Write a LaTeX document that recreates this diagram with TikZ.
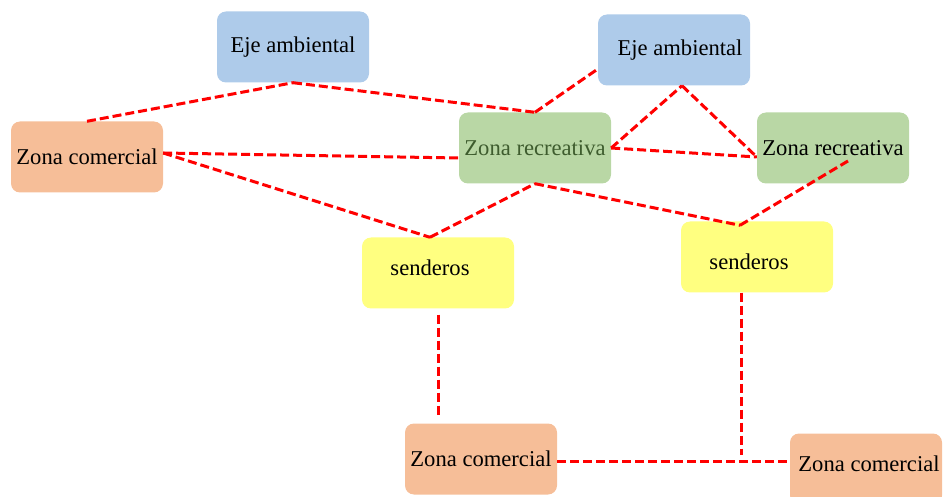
\documentclass[tikz,border=0pt]{standalone}
\usepackage{fontspec}
\setmainfont{Liberation Serif}
\definecolor{ejeblue}{RGB}{174,203,234}
\definecolor{comorange}{RGB}{246,190,152}
\definecolor{recgreen}{RGB}{185,215,165}
\definecolor{recgreentext}{RGB}{62,92,46}
\definecolor{sendyellow}{RGB}{255,255,128}
\begin{document}
\begin{tikzpicture}[x=1pt, y=-1pt,
  zonetext/.style={inner sep=0pt, font=\fontsize{22.6}{26}\selectfont},
  zone/.style={zonetext, rounded corners=9pt, minimum width=152pt, minimum height=71pt},
  link/.style={red, line width=3pt, dash pattern=on 9pt off 4pt}]
  \useasboundingbox (0,0) rectangle (943,497);
  \node[zone, fill=ejeblue] (ea1) at (293,47) {Eje ambiental};
  \node[zone, fill=ejeblue, label={[zonetext, xshift=6pt]center:Eje ambiental}] (ea2) at (674,50) {};
  \node[zone, fill=comorange] (zc1) at (87,157) {Zona comercial};
  \node[zone, fill=recgreen, text=recgreentext] (zr1) at (535,148) {Zona recreativa};
  \node[zone, fill=recgreen] (zr2) at (833,148) {Zona recreativa};
  \node[zone, fill=sendyellow, label={[zonetext, xshift=-8pt, yshift=5pt]center:senderos}] (sd1) at (438,273) {};
  \node[zone, fill=sendyellow, label={[zonetext, xshift=-8pt, yshift=-5pt]center:senderos}] (sd2) at (757,257) {};
  \node[zone, fill=comorange] (zc3) at (481,459) {Zona comercial};
  \node[zone, fill=comorange, label={[zonetext, xshift=3pt, yshift=5pt]center:Zona comercial}] (zc4) at (866,469) {};
  \coordinate (zc3head) at (sd1.south |- zc3.north);
  \coordinate (sd2foot) at ([xshift=-16pt]sd2.south);
  \coordinate (sd2joint) at (sd2foot |- zc3.east);
  \path[link]
(zc1.north) edge (ea1.south)
(ea1.south) edge (zr1.north)
(zr1.north) edge ([yshift=-19pt]ea2.west)
([yshift=4pt]zc1.east) edge ([yshift=-10pt]zr1.west)
([yshift=4pt]zc1.east) edge ([xshift=-8pt]sd1.north)
([xshift=-8pt]sd1.north) edge (zr1.south)
(zr1.east) edge ([xshift=8pt]ea2.south)
([xshift=8pt]ea2.south) edge ([yshift=-9pt]zr2.west)
(zr1.east) edge ([yshift=-9pt]zr2.west)
(zr1.south) edge ([xshift=-17pt,yshift=-4pt]sd2.north)
([xshift=-17pt,yshift=-4pt]sd2.north) edge ([xshift=15pt,yshift=-13pt]zr2.center)
(sd1.south) edge [shorten <=6pt, shorten >=6pt] (zc3head)
(sd2foot) edge [shorten >=4pt] (sd2joint)
([yshift=-2pt]zc3.east) edge ([yshift=8pt]zc4.west)
  ;
\end{tikzpicture}
\end{document}
